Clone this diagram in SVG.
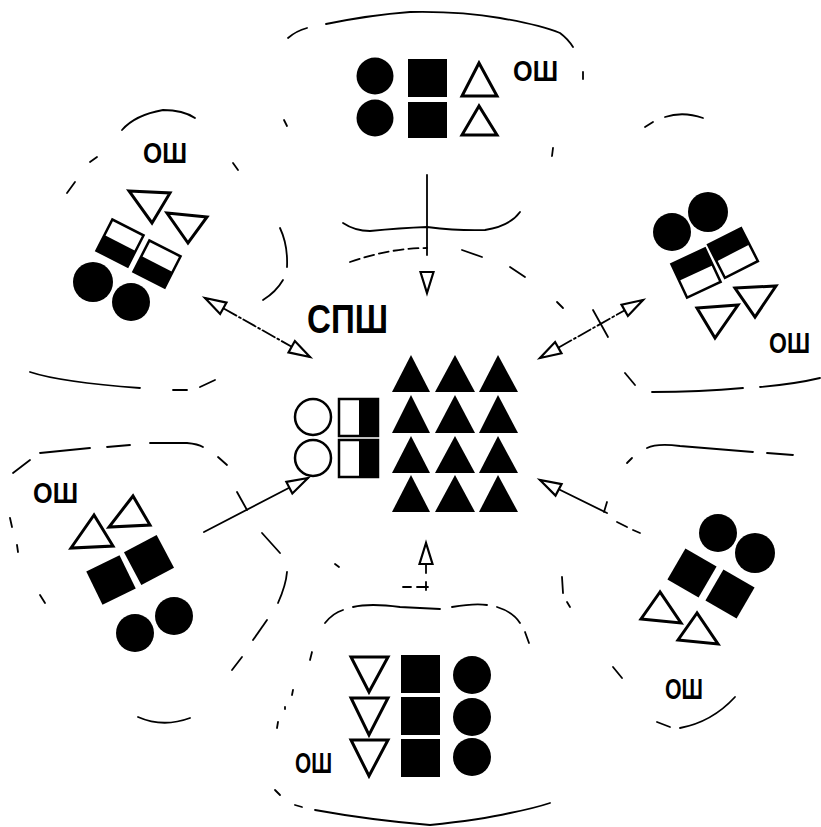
<svg xmlns="http://www.w3.org/2000/svg" xmlns:xlink="http://www.w3.org/1999/xlink" width="821" height="827" viewBox="0 0 821 827">
<style>
.fc{fill:#000}
.oc{fill:#fff;stroke:#000;stroke-width:2.5}
.fs{fill:#000}
.hs{fill:#fff;stroke:#000;stroke-width:2.5}
.ot{fill:#fff;stroke:#000;stroke-width:3;stroke-linejoin:miter}
.ft{fill:#000}
.lbl{font-family:"Liberation Sans",Arial,sans-serif;font-weight:bold;font-size:29px;fill:#000}
.big{font-size:40px}
.bd{fill:none;stroke:#000;stroke-width:1.8;stroke-linecap:round}
.cn{fill:none;stroke:#000;stroke-width:1.8;stroke-linecap:round}
.dd{stroke-dasharray:14 3 2 3}
.ah{fill:#fff;stroke:#000;stroke-width:2.2;stroke-linejoin:miter}
</style>
<defs>
<path id="ah" class="ah" d="M0,0 L-21,-6.5 L-21,6.5 Z"/>
</defs>
<rect width="821" height="827" fill="#fff"/>

<g id="boundaries" class="bd">
<!-- top region -->
<path d="M288,38 Q296,31 307,28"/>
<path d="M326,24 Q370,15 410,12 Q460,11 500,18 Q540,25 560,33 Q568,39 573,47"/>
<path d="M583,72 L583,79"/>
<path d="M553,148 L552,156"/>
<path d="M284,120 L287,126"/>
<path d="M343,223 Q355,231 370,231 Q400,228 427,227 Q460,231 485,230 Q510,226 520,212"/>
<!-- center dashed arc -->
<path d="M350,262 Q390,248 427,248" stroke-dasharray="10 5"/>
<path d="M462,250 L482,257"/>
<path d="M510,267 L525,277"/>
<path d="M557,302 L563,308"/>
<path d="M562,577 L563,593"/>
<path d="M567,602 L570,607"/>
<path d="M335,564 L339,567"/>
<!-- top-right region -->
<path d="M645,127 L653,122"/>
<path d="M665,117 Q683,111 703,118"/>
<path d="M625,373 L635,385"/>
<path d="M652,392 Q700,392 743,388"/>
<path d="M760,387 Q795,384 820,378"/>
<!-- bottom-right region -->
<path d="M627,463 L632,458"/>
<path d="M647,448 Q657,443 680,446 L753,452"/>
<path d="M767,453 L793,455"/>
<path d="M657,722 L670,727"/>
<path d="M680,728 Q712,722 735,697"/>
<path d="M613,667 L622,678"/>
<!-- bottom region -->
<path d="M325,623 Q333,613 343,610"/>
<path d="M353,607 Q370,603 400,607 L440,609"/>
<path d="M452,607 Q475,603 487,605"/>
<path d="M497,607 Q513,612 520,623"/>
<path d="M525,632 L529,643"/>
<path d="M312,652 L310,660"/>
<path d="M293,690 L292,695"/>
<path d="M285,707 L285,709"/>
<path d="M278,722 L277,728"/>
<path d="M275,790 L280,795"/>
<path d="M295,805 L302,807"/>
<path d="M315,810 Q370,820 430,825 Q480,820 510,813 Q535,808 550,803"/>
<!-- bottom-left region -->
<path d="M13,473 L30,460"/>
<path d="M40,453 L90,448"/>
<path d="M107,447 L130,445"/>
<path d="M150,443 L187,443 Q198,444 203,447"/>
<path d="M218,457 L227,465"/>
<path d="M10,518 L12,527"/>
<path d="M17,545 L18,552"/>
<path d="M40,595 L45,603"/>
<path d="M138,717 Q163,728 190,718"/>
<path d="M262,533 L280,553"/>
<path d="M287,572 Q286,585 278,603"/>
<path d="M267,620 L253,640"/>
<path d="M242,657 L232,670"/>
<!-- top-left region -->
<path d="M122,130 Q135,115 163,110 Q183,110 195,118"/>
<path d="M90,162 L97,157"/>
<path d="M67,193 L75,182"/>
<path d="M233,163 L238,170"/>
<path d="M280,228 Q288,245 287,267"/>
<path d="M283,280 Q276,292 263,300"/>
<path d="M30,372 Q60,382 140,388"/>
<path d="M173,390 L187,390"/>
<path d="M200,387 L215,380"/>
</g>

<g id="connectors">
<!-- top -->
<path class="cn" d="M427,175 L427,255"/>
<use xlink:href="#ah" transform="translate(427,293) rotate(90)"/>
<!-- top-left double -->
<path class="cn dd" d="M205,298 L310,357"/>
<use xlink:href="#ah" transform="translate(205,298) rotate(-150.7)"/>
<use xlink:href="#ah" transform="translate(310,357) rotate(29.3)"/>
<!-- top-right double -->
<path class="cn dd" d="M540,358 L643,300"/>
<path class="cn" d="M593,310 L608,337"/>
<use xlink:href="#ah" transform="translate(643,300) rotate(-29.4)"/>
<use xlink:href="#ah" transform="translate(540,358) rotate(150.6)"/>
<!-- bottom-left -->
<path class="cn" d="M204,532 L308,478"/>
<path class="cn" d="M237,492 L247,510"/>
<use xlink:href="#ah" transform="translate(308,478) rotate(-27.4)"/>
<!-- bottom-right -->
<path class="cn" d="M540,480 L607,513"/>
<path class="cn" d="M617,522 L627,527 M633,530 L640,533"/>
<path class="cn" d="M607,502 L604,512"/>
<use xlink:href="#ah" transform="translate(540,480) rotate(207.9)"/>
<!-- bottom -->
<path class="cn" d="M426,543 L426,573"/>
<path class="cn" d="M403,587 L411,587 M417,587 L428,587 M426,582 L426,590"/>
<use xlink:href="#ah" transform="translate(426,543) rotate(-90)"/>
</g>

<g id="node-center">
<circle class="oc" cx="313" cy="417" r="18"/>
<circle class="oc" cx="313" cy="458" r="18"/>
<rect class="hs" x="339" y="399" width="39" height="37"/>
<rect class="fs" x="359" y="399" width="19" height="37"/>
<rect class="hs" x="339" y="440" width="39" height="37"/>
<rect class="fs" x="359" y="440" width="19" height="37"/>
<polygon class="ft" points="411,355 392,392 430,392"/>
<polygon class="ft" points="455,355 435,392 475,392"/>
<polygon class="ft" points="498,355 479,392 518,392"/>
<polygon class="ft" points="411,395 392,433 430,433"/>
<polygon class="ft" points="455,395 435,433 475,433"/>
<polygon class="ft" points="498,395 479,433 518,433"/>
<polygon class="ft" points="411,436 392,473 430,473"/>
<polygon class="ft" points="455,436 435,473 475,473"/>
<polygon class="ft" points="498,436 479,473 518,473"/>
<polygon class="ft" points="411,475 392,512 430,512"/>
<polygon class="ft" points="455,475 435,512 475,512"/>
<polygon class="ft" points="498,475 479,512 518,512"/>
<text class="lbl big" x="307" y="333" textLength="81" lengthAdjust="spacingAndGlyphs">СПШ</text>
</g>

<g id="node-top">
<circle class="fc" cx="375" cy="76" r="18.5"/>
<circle class="fc" cx="375" cy="118" r="18.5"/>
<rect class="fs" x="408" y="59" width="39" height="38"/>
<rect class="fs" x="408" y="102" width="39" height="36"/>
<polygon class="ot" points="479,63 462,96 497,96"/>
<polygon class="ot" points="479,106 462,135 497,135"/>
<text class="lbl" x="513" y="81" textLength="45" lengthAdjust="spacingAndGlyphs">ОШ</text>
</g>

<g id="node-top-left">
<text class="lbl" x="143" y="163" textLength="44" lengthAdjust="spacingAndGlyphs">ОШ</text>
<polygon class="ot" points="129,191 170,193 152,223"/>
<polygon class="ot" points="167,213 207,217 188,243"/>
<g transform="translate(120,243) rotate(27)">
<rect class="hs" x="-17.5" y="-17.5" width="35" height="35"/>
<rect class="fs" x="-17.5" y="0" width="35" height="17.5"/>
</g>
<g transform="translate(157,264) rotate(27)">
<rect class="hs" x="-17.5" y="-17.5" width="35" height="35"/>
<rect class="fs" x="-17.5" y="0" width="35" height="17.5"/>
</g>
<circle class="fc" cx="93" cy="282" r="20"/>
<circle class="fc" cx="131" cy="302" r="19"/>
</g>

<g id="node-top-right">
<circle class="fc" cx="672" cy="232" r="19"/>
<circle class="fc" cx="708" cy="212" r="20"/>
<g transform="translate(696,273) rotate(-25)">
<rect class="hs" x="-18.5" y="-18.5" width="37" height="37"/>
<rect class="fs" x="-18.5" y="-18.5" width="37" height="18.5"/>
</g>
<g transform="translate(733,253) rotate(-27)">
<rect class="hs" x="-18.5" y="-18.5" width="37" height="37"/>
<rect class="fs" x="-18.5" y="-18.5" width="37" height="18.5"/>
</g>
<polygon class="ot" points="697,308 738,305 715,338"/>
<polygon class="ot" points="735,288 776,286 755,317"/>
<text class="lbl" x="769" y="353" textLength="41" lengthAdjust="spacingAndGlyphs">ОШ</text>
</g>

<g id="node-bottom-left">
<text class="lbl" x="33" y="503" textLength="45" lengthAdjust="spacingAndGlyphs">ОШ</text>
<polygon class="ot" points="94,515 71,548 113,546"/>
<polygon class="ot" points="133,496 109,527 150,525"/>
<rect class="fs" x="-18.5" y="-18.5" width="37" height="37" transform="translate(111,580) rotate(-26)"/>
<rect class="fs" x="-18.5" y="-18.5" width="37" height="37" transform="translate(149,560) rotate(-28)"/>
<circle class="fc" cx="135" cy="633" r="19"/>
<circle class="fc" cx="174" cy="616" r="19"/>
</g>

<g id="node-bottom-right">
<circle class="fc" cx="718" cy="533" r="19"/>
<circle class="fc" cx="755" cy="553" r="20"/>
<rect class="fs" x="-18" y="-18" width="36" height="36" transform="translate(692,573) rotate(30)"/>
<rect class="fs" x="-18" y="-18" width="36" height="36" transform="translate(730,594) rotate(30)"/>
<polygon class="ot" points="660,592 641,619 681,623"/>
<polygon class="ot" points="697,613 678,640 718,644"/>
<text class="lbl" x="665" y="699" textLength="38" lengthAdjust="spacingAndGlyphs">ОШ</text>
</g>

<g id="node-bottom">
<polygon class="ot" points="351,657 388,657 369,692"/>
<polygon class="ot" points="351,698 388,698 369,735"/>
<polygon class="ot" points="351,740 388,740 369,776"/>
<rect class="fs" x="401" y="655" width="39" height="38"/>
<rect class="fs" x="401" y="697" width="39" height="38"/>
<rect class="fs" x="401" y="739" width="39" height="38"/>
<circle class="fc" cx="472" cy="675" r="19"/>
<circle class="fc" cx="472" cy="717" r="19"/>
<circle class="fc" cx="472" cy="757" r="19"/>
<text class="lbl" x="295" y="773" textLength="37" lengthAdjust="spacingAndGlyphs">ОШ</text>
</g>
</svg>
